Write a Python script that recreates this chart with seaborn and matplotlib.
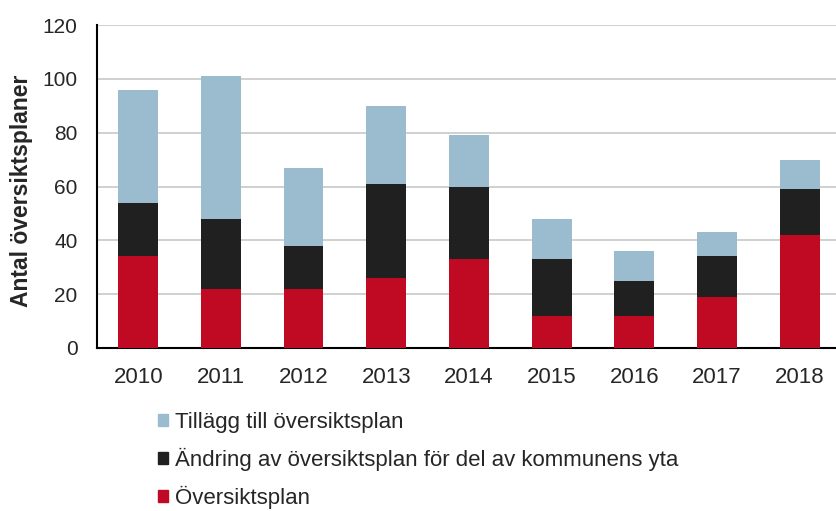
import numpy as np
import pandas as pd
import matplotlib
matplotlib.use("Agg")
import matplotlib.pyplot as plt
import seaborn as sns
from matplotlib.patches import Patch

# Data
years = ["2010", "2011", "2012", "2013", "2014", "2015", "2016", "2017", "2018"]
oversiktsplan = [34, 22, 22, 26, 33, 12, 12, 19, 42]
andring = [20, 26, 16, 35, 27, 21, 13, 15, 17]
tillagg = [42, 53, 29, 29, 19, 15, 11, 9, 11]

labels = ["Översiktsplan",
          "Ändring av översiktsplan för del av kommunens yta",
          "Tillägg till översiktsplan"]
colors = ["#C00A23", "#202020", "#9BBBCE"]

df = pd.DataFrame({"År": years, labels[0]: oversiktsplan,
                   labels[1]: andring, labels[2]: tillagg})

sns.set_style("white")
plt.rcParams["font.family"] = ["Liberation Sans", "DejaVu Sans"]

fig = plt.figure(figsize=(8.36, 5.11), dpi=100)
ax = fig.add_axes([0.116, 0.319, 0.89, 0.632])

# stacked bars, bottom to top
bottom = np.zeros(len(years))
for lab, col in zip(labels, colors):
    sns.barplot(data=df, x="År", y=lab, color=col, width=0.48,
                bottom=bottom, ax=ax, saturation=1, linewidth=0, zorder=3)
    bottom += df[lab].values

ax.set_ylim(0, 120)
ax.set_xlim(-0.5, 8.5)
ax.set_yticks(range(0, 121, 20))
ax.yaxis.grid(True, color="#C8C8C8", linewidth=1.2, zorder=0)
ax.set_axisbelow(True)
ax.set_xlabel("")
ax.set_ylabel("Antal översiktsplaner", fontsize=16.5, fontweight="bold")
ax.yaxis.set_label_coords(-0.086, 0.486)

for s in ["top", "right"]:
    ax.spines[s].set_visible(False)
for s in ["left", "bottom"]:
    ax.spines[s].set_color("black")
    ax.spines[s].set_linewidth(1.5)

ax.tick_params(axis="x", which="major", length=0, labelsize=16, pad=14)
ax.set_xticks(np.arange(-0.5, 9, 1), minor=True)
ax.tick_params(axis="x", which="minor", length=6, width=1.5, direction="out", color="black")
ax.tick_params(axis="y", length=6, width=1.5, direction="out", color="black",
               labelsize=15, pad=8)

handles = [Patch(color=c, label=l) for l, c in zip(labels, colors)][::-1]
fig.legend(handles=handles, loc="upper left", bbox_to_anchor=(0.176, 0.216),
           frameon=False, fontsize=16, handlelength=0.45, handleheight=0.45,
           handletextpad=0.3, labelspacing=0.68, borderpad=0)

fig.savefig("out.png", dpi=100)
